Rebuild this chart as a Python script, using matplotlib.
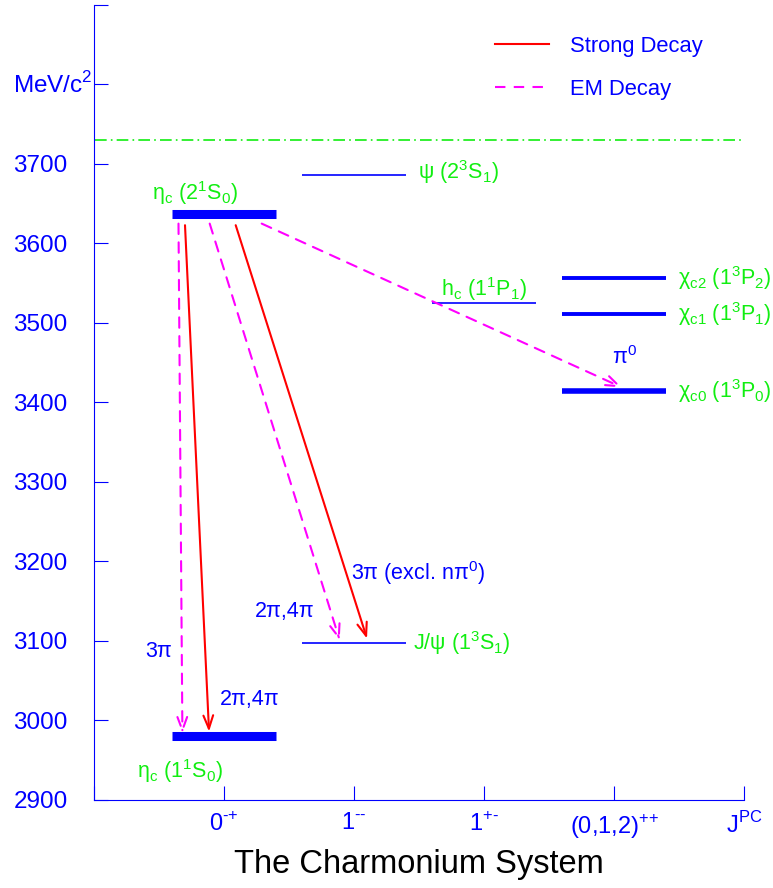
import numpy as np
import matplotlib.pyplot as plt
from matplotlib.lines import Line2D

plt.rcParams['font.family'] = ['Liberation Sans', 'DejaVu Sans']
plt.rcParams['mathtext.fontset'] = 'custom'
plt.rcParams['mathtext.rm'] = 'Liberation Sans'

# charmonium levels (MeV/c^2) and their J^PC column
level_names = ['eta_c(1S)', 'eta_c(2S)', 'J/psi', 'psi(2S)', 'h_c', 'chi_c0', 'chi_c1', 'chi_c2']
level_mass = [2980, 3637, 3097, 3686, 3525, 3415, 3511, 3556]
level_col = [1, 1, 2, 2, 3, 4, 4, 4]
level_lw = [6.5, 6.5, 1.2, 1.2, 1.2, 4, 2.8, 2.8]
level_labels = [r'η$_\mathregular{c}$ (1$^\mathregular{1}$S$_\mathregular{0}$)',
                r'η$_\mathregular{c}$ (2$^\mathregular{1}$S$_\mathregular{0}$)',
                r'J/ψ (1$^\mathregular{3}$S$_\mathregular{1}$)',
                r'ψ (2$^\mathregular{3}$S$_\mathregular{1}$)',
                r'h$_\mathregular{c}$ (1$^\mathregular{1}$P$_\mathregular{1}$)',
                r'χ$_\mathregular{c0}$ (1$^\mathregular{3}$P$_\mathregular{0}$)',
                r'χ$_\mathregular{c1}$ (1$^\mathregular{3}$P$_\mathregular{1}$)',
                r'χ$_\mathregular{c2}$ (1$^\mathregular{3}$P$_\mathregular{2}$)']
dd_threshold = 3730

# transitions: (from level, to level, x start, x end)
strong_from = [1, 1]
strong_to = [0, 2]
strong_x0 = [0.70, 1.09]
strong_x1 = [0.885, 2.10]
em_from = [1, 1, 1]
em_to = [0, 2, 5]
em_x0 = [0.65, 0.89, 1.29]
em_x1 = [0.68, 1.89, 4.06]

decay_labels = ['3π', '2π,4π', '2π,4π', r'3π (excl. nπ$^\mathregular{0}$)', r'π$^\mathregular{0}$']
decay_lx = [0.50, 1.20, 1.47, 2.49, 4.08]
decay_ly = [3087, 3027, 3137, 3186, 3456]

xtick_pos = [0, 1, 2, 3, 4, 5]
xtick_labels = ['', r'0$^{\text{-+}}$', r'1$^{\text{--}}$', r'1$^{\text{+-}}$',
                r'(0,1,2)$^{\text{++}}$', r'J$^\mathregular{PC}$']
ytick_pos = np.arange(2900, 3901, 100)

blue = '#0000ff'
green = '#11ee11'
magenta = '#ff00ff'
fs = 15.5

fig = plt.figure(figsize=(7.73, 8.88), dpi=100)
ax = fig.add_axes([0.1216, 0.0991, 0.8409, 0.8953])
ax.set_xlim(0, 5)
ax.set_ylim(2900, 3900)

for m, c, lw in zip(level_mass, level_col, level_lw):
    ax.plot([c - 0.4, c + 0.4], [m, m], color=blue, lw=lw, solid_capstyle='butt')

ax.axhline(dd_threshold, xmin=0.002, xmax=1.0, color=green, lw=1.2, ls=(0, (7, 2.5, 1, 2.5)))

# level labels
lab_x = [0.66, 0.78, 2.45, 2.49, 3.0, 4.49, 4.49, 4.49]
lab_dy = [-43, 27, 0, 4, 18, 0, 0, 0]
lab_ha = ['center', 'center', 'left', 'left', 'center', 'left', 'left', 'left']
for i in range(len(level_mass)):
    ax.text(lab_x[i], level_mass[i] + lab_dy[i], level_labels[i], color=green, fontsize=fs,
            ha=lab_ha[i], va='center')

for f, t, x0, x1 in zip(strong_from, strong_to, strong_x0, strong_x1):
    ax.annotate('', xy=(x1, level_mass[t] + 6), xytext=(x0, level_mass[f] - 14),
                arrowprops=dict(arrowstyle='->,head_length=0.95,head_width=0.35',
                                color='red', lw=1.5, shrinkA=0, shrinkB=0))
for f, t, x0, x1 in zip(em_from, em_to, em_x0, em_x1):
    ax.annotate('', xy=(x1, level_mass[t] + 4), xytext=(x0, level_mass[f] - 12),
                arrowprops=dict(arrowstyle='->,head_length=0.95,head_width=0.35',
                                color=magenta, lw=1.5, ls=(0, (5, 4)), shrinkA=0, shrinkB=0))

for s, x, y in zip(decay_labels, decay_lx, decay_ly):
    ax.text(x, y, s, color=blue, fontsize=fs, ha='center', va='center')

# legend
h1 = Line2D([], [], color='red', lw=1.5)
h2 = Line2D([], [], color=magenta, lw=1.5, ls=(0, (5, 4)))
leg = ax.legend([h1, h2], ['Strong Decay', 'EM Decay'], loc='upper left',
                bbox_to_anchor=(0.617, 0.961), frameon=False, fontsize=15.8,
                handlelength=2.45, handletextpad=0.95, labelspacing=1.0,
                borderpad=0, borderaxespad=0)
for t in leg.get_texts():
    t.set_color(blue)

# axes styling
for side in ['top', 'right']:
    ax.spines[side].set_visible(False)
for side in ['left', 'bottom']:
    ax.spines[side].set_color(blue)
ax.set_yticks(ytick_pos)
ax.set_yticklabels([str(v) if v < 3800 else '' for v in ytick_pos])
ax.set_xticks(xtick_pos)
ax.set_xticklabels(xtick_labels)
ax.tick_params(axis='both', direction='in', length=10, color=blue, labelcolor=blue)
ax.tick_params(axis='y', pad=19, labelsize=17.5)
ax.tick_params(axis='x', pad=9, labelsize=17)
ax.text(-0.01, 3800, r'MeV/c$^\mathregular{2}$', color=blue, fontsize=17.5, ha='right', va='center')
ax.set_xlabel('The Charmonium System', fontsize=23.5, labelpad=6)

fig.savefig('out.png', dpi=100)
